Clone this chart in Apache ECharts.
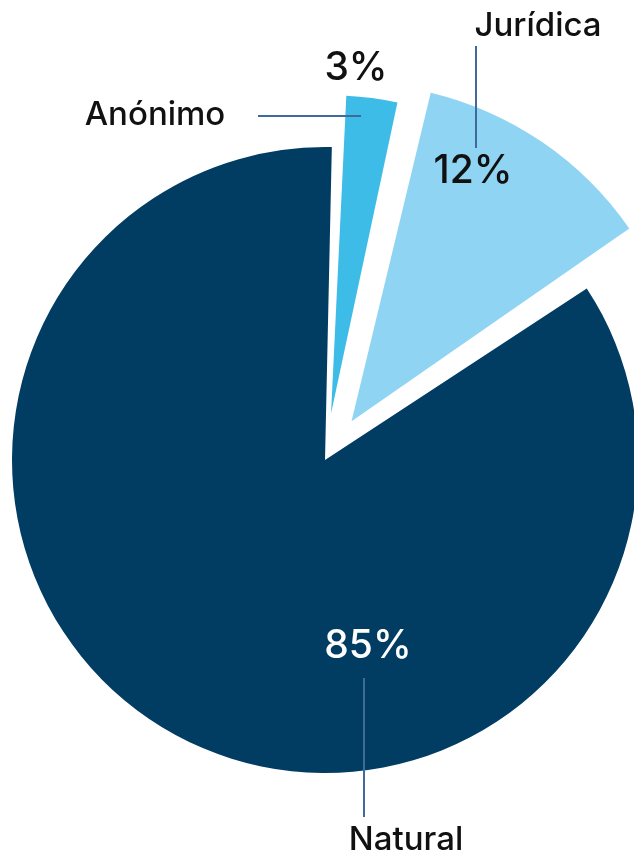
<!DOCTYPE html>
<html>
<head>
<meta charset="utf-8">
<style>
  html, body { margin: 0; padding: 0; background: #ffffff; }
  #chart { width: 634px; height: 854px; }
</style>
<script src="https://cdn.jsdelivr.net/npm/echarts@6/dist/echarts.min.js"></script>
</head>
<body>
<div id="chart"></div>
<script>
// ---- data ----
const categories = ['Anónimo', 'Jurídica', 'Natural'];
const values = [3, 12, 85];

// ---- styling ----
const sliceColors = ['#3dbce8', '#8fd4f2', '#013d63'];
const sliceRadius = [318, 338, 313];
const sliceExplode = [47, 47, 0];   // px pulled out along each slice's bisector
const pctColors = ['#111111', '#111111', '#ffffff'];
const pctPos = [[356, 68], [473, 171], [368, 646]];
const namePos = [[155, 115], [538, 26], [406, 840]];
const nameLines = [
  [[258, 116], [361, 116]],
  [[476, 46], [476, 148]],
  [[364, 678], [364, 817]]
];
const CENTER = [325, 460];
const START = 88;
const PAD = 1.5;
const FONT = 'Inter, "Noto Sans", sans-serif';
const LINE_COLOR = '#3e6a9c';
const CLEAR = 'rgba(0,0,0,0)';

const chart = echarts.init(document.getElementById('chart'), null, { renderer: 'canvas' });

// centre of each exploded slice: shifted along the slice's own bisector
const total = values.reduce(function (a, b) { return a + b; }, 0);
let cum = 0;
const sliceCenters = values.map(function (v, i) {
  const mid = (START - (cum + v / 2) / total * 360) * Math.PI / 180;
  cum += v;
  return [CENTER[0] + sliceExplode[i] * Math.cos(mid), CENTER[1] - sliceExplode[i] * Math.sin(mid)];
});

// one series per visible slice (all built from the same data)
const sliceSeries = categories.map(function (cat, k) {
  return {
    type: 'pie',
    center: sliceCenters[k],
    radius: sliceRadius[k],
    startAngle: START,
    padAngle: PAD,
    clockwise: true,
    avoidLabelOverlap: false,
    silent: true,
    emphasis: { disabled: true },
    animation: false,
    z: 2,
    label: {
      show: true,
      position: 'inside',
      formatter: '{c}%',
      fontFamily: FONT,
      fontSize: 39,
      fontWeight: 500,
      color: pctColors[k]
    },
    labelLine: { show: false },
    labelLayout: function (p) {
      return { x: pctPos[p.dataIndex][0], y: pctPos[p.dataIndex][1], align: 'center', verticalAlign: 'middle' };
    },
    data: categories.map(function (name, i) {
      return {
        name: name,
        value: values[i],
        itemStyle: { color: i === k ? sliceColors[i] : CLEAR, borderWidth: 0 },
        label: { show: i === k }
      };
    })
  };
});

// transparent layer carrying the category name labels and leader lines
const nameSeries = {
  type: 'pie',
  center: CENTER,
  radius: 313,
  startAngle: START,
  padAngle: PAD,
  clockwise: true,
  avoidLabelOverlap: false,
  silent: true,
  emphasis: { disabled: true },
  animation: false,
  z: 3,
  itemStyle: { color: CLEAR },
  label: {
    show: true,
    position: 'outside',
    formatter: '{b}',
    fontFamily: FONT,
    fontSize: 33,
    fontWeight: 500,
    color: '#111111'
  },
  labelLine: {
    show: true,
    length: 10,
    length2: 10,
    lineStyle: { color: LINE_COLOR, width: 2 }
  },
  labelLayout: function (p) {
    const i = p.dataIndex;
    return {
      x: namePos[i][0], y: namePos[i][1],
      align: 'center', verticalAlign: 'middle',
      labelLinePoints: nameLines[i]
    };
  },
  data: categories.map(function (name, i) {
    return { name: name, value: values[i] };
  })
};

chart.setOption({
  backgroundColor: '#ffffff',
  animation: false,
  series: sliceSeries.concat([nameSeries])
});
</script>
</body>
</html>
